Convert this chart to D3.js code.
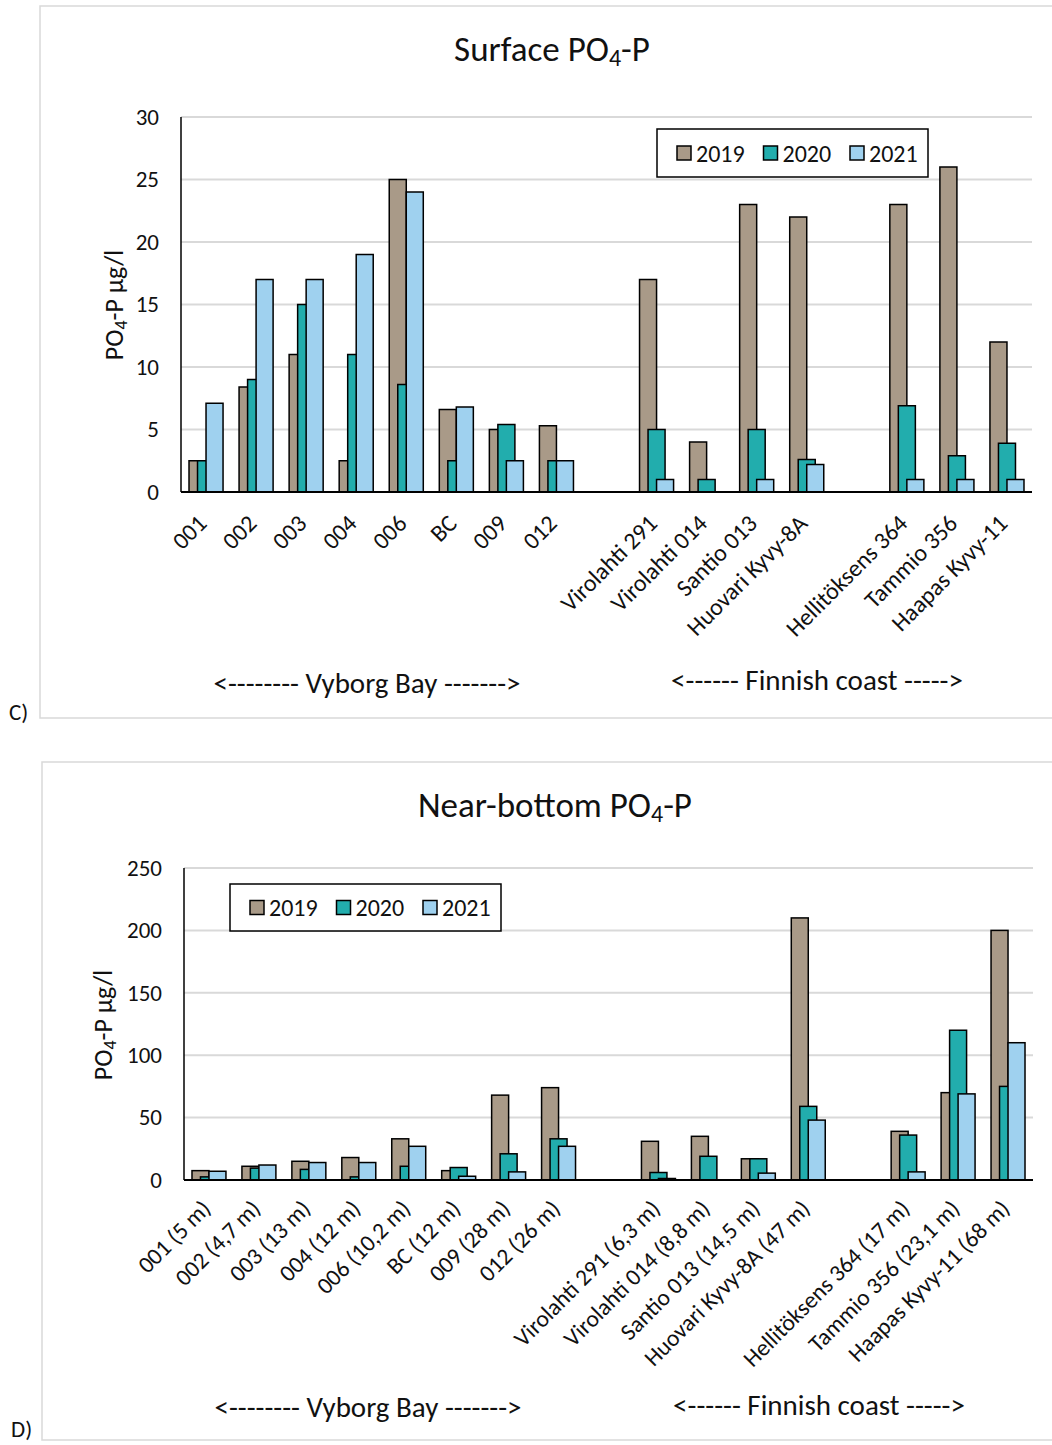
<!DOCTYPE html>
<html>
<head>
<meta charset="utf-8">
<script src="https://cdn.jsdelivr.net/npm/d3@7"></script>
<style>
  body { margin: 0; background: #fff; }
  svg { display: block; }
  text { font-family: Calibri, Carlito, Lato, sans-serif; fill: #111; }
</style>
</head>
<body>
<div id="chart"></div>
<script>
(function () {
  'use strict';

  // categories ('' = empty spacer slot between groups)
  const surfaceCats = ['001', '002', '003', '004', '006', 'BC', '009', '012', '',
    'Virolahti 291', 'Virolahti 014', 'Santio 013', 'Huovari Kyvy-8A', '',
    'Hellitöksens 364', 'Tammio 356', 'Haapas Kyvy-11'];
  const bottomCats = ['001 (5 m)', '002 (4,7 m)', '003 (13 m)', '004 (12 m)', '006 (10,2 m)',
    'BC (12 m)', '009 (28 m)', '012 (26 m)', '',
    'Virolahti 291 (6,3 m)', 'Virolahti 014 (8,8 m)', 'Santio 013 (14,5 m)', 'Huovari Kyvy-8A (47 m)', '',
    'Hellitöksens 364 (17 m)', 'Tammio 356 (23,1 m)', 'Haapas Kyvy-11 (68 m)'];

  const years = ['2019', '2020', '2021'];

  const surface2019 = [2.5, 8.4, 11, 2.5, 25, 6.6, 5.0, 5.3, null, 17, 4.0, 23, 22, null, 23, 26, 12];
  const surface2020 = [2.5, 9.0, 15, 11, 8.6, 2.5, 5.4, 2.5, null, 5.0, 1.0, 5.0, 2.6, null, 6.9, 2.9, 3.9];
  const surface2021 = [7.1, 17, 17, 19, 24, 6.8, 2.5, 2.5, null, 1.0, null, 1.0, 2.2, null, 1.0, 1.0, 1.0];

  const bottom2019 = [7.5, 11, 15, 18, 33, 7.5, 68, 74, null, 31, 35, 17, 210, null, 39, 70, 200];
  const bottom2020 = [2.5, 9.5, 8.5, 2.5, 11, 10, 21, 33, null, 6, 19, 17, 59, null, 36, 120, 75];
  const bottom2021 = [7.0, 12, 14, 14, 27, 3, 6.5, 27, null, 1.2, null, 5.5, 48, null, 6.5, 69, 110];

  const surfaceTicks = [0, 5, 10, 15, 20, 25, 30];
  const bottomTicks = [0, 50, 100, 150, 200, 250];

  const colors = ['#a99a88', '#22adad', '#9fd1ef'];

  const W = 1052, H = 1445;
  const svg = d3.select('#chart').append('svg').attr('width', W).attr('height', H);

  function drawPanel(cfg) {
    const g = svg.append('g');

    // frame
    g.append('rect')
      .attr('x', cfg.frame.x).attr('y', cfg.frame.y)
      .attr('width', cfg.frame.w).attr('height', cfg.frame.h)
      .attr('fill', 'none').attr('stroke', '#d9d9d9').attr('stroke-width', 1.5);
    g.append('text')
      .attr('x', cfg.tag.x).attr('y', cfg.tag.y)
      .attr('font-size', 23).text(cfg.tag.text);

    // title with subscript
    const t = g.append('text')
      .attr('x', cfg.title.x).attr('y', cfg.title.y)
      .attr('text-anchor', 'middle').attr('font-size', 35);
    t.append('tspan').text(cfg.title.pre + 'PO');
    t.append('tspan').attr('baseline-shift', '-22%').attr('font-size', 24).text('4');
    t.append('tspan').attr('baseline-shift', '0').text('-P');

    const x = d3.scaleBand()
      .domain(d3.range(cfg.cats.length))
      .range([cfg.plot.left, cfg.plot.right]);
    const y = d3.scaleLinear()
      .domain([0, cfg.ticks[cfg.ticks.length - 1]])
      .range([cfg.plot.bottom, cfg.plot.top]);

    const bw = x.bandwidth();
    const barW = bw * 0.34, step = bw * 0.17, pad = bw * 0.16;

    // gridlines
    g.append('g')
      .selectAll('line')
      .data(cfg.ticks.filter((d) => d > 0))
      .enter().append('line')
      .attr('x1', cfg.plot.left).attr('x2', cfg.plot.right)
      .attr('y1', (d) => y(d)).attr('y2', (d) => y(d))
      .attr('stroke', '#d9d9d9').attr('stroke-width', 2);

    // y tick labels
    const yAxis = g.append('g')
      .attr('transform', `translate(${cfg.plot.left},0)`)
      .call(d3.axisLeft(y).tickValues(cfg.ticks).tickSize(0).tickPadding(22));
    yAxis.select('.domain').remove();
    yAxis.selectAll('text')
      .attr('font-size', 23).attr('font-family', 'Calibri, Carlito, Lato, sans-serif').attr('fill', '#111');

    // bars, series in order so later years overlap earlier
    cfg.series.forEach((vals, si) => {
      g.append('g')
        .selectAll('rect')
        .data(vals.map((v, i) => ({ v, i })).filter((d) => d.v != null))
        .enter().append('rect')
        .attr('x', (d) => x(d.i) + pad + si * step)
        .attr('width', barW)
        .attr('y', (d) => y(d.v))
        .attr('height', (d) => y(0) - y(d.v))
        .attr('fill', colors[si])
        .attr('stroke', '#000').attr('stroke-width', 1.5);
    });

    // axes lines
    g.append('line')
      .attr('x1', cfg.plot.left).attr('x2', cfg.plot.left)
      .attr('y1', cfg.plot.top).attr('y2', cfg.plot.bottom)
      .attr('stroke', '#000').attr('stroke-width', 1.5);
    g.append('line')
      .attr('x1', cfg.plot.left).attr('x2', cfg.plot.right)
      .attr('y1', cfg.plot.bottom).attr('y2', cfg.plot.bottom)
      .attr('stroke', '#000').attr('stroke-width', 1.8);

    // category labels
    g.append('g')
      .selectAll('text')
      .data(cfg.cats.map((c, i) => ({ c, i })).filter((d) => d.c !== ''))
      .enter().append('text')
      .attr('transform', (d) => `translate(${x(d.i) + bw / 2 + cfg.labelDx},${cfg.plot.bottom + cfg.labelDy}) rotate(-45)`)
      .attr('text-anchor', 'end')
      .attr('font-size', cfg.labelSize)
      .text((d) => d.c);

    // y title
    const yt = g.append('text')
      .attr('transform', `translate(${cfg.yTitle.x},${cfg.yTitle.y}) rotate(-90)`)
      .attr('text-anchor', 'middle').attr('font-size', 26);
    yt.append('tspan').text('PO');
    yt.append('tspan').attr('baseline-shift', '-22%').attr('font-size', 18).text('4');
    yt.append('tspan').attr('baseline-shift', '0').text('-P µg/l');

    // group labels
    cfg.groups.forEach((gr) => {
      g.append('text')
        .attr('x', gr.x).attr('y', gr.y)
        .attr('text-anchor', 'middle').attr('font-size', 29)
        .text(gr.text);
    });

    // legend
    const lg = g.append('g').attr('transform', `translate(${cfg.legend.x},${cfg.legend.y})`);
    lg.append('rect')
      .attr('width', cfg.legend.w).attr('height', cfg.legend.h)
      .attr('fill', '#fff').attr('stroke', '#000').attr('stroke-width', 1.5);
    years.forEach((yr, i) => {
      const item = lg.append('g').attr('transform', `translate(${20 + i * 86.5},${cfg.legend.h / 2})`);
      item.append('rect')
        .attr('x', 0).attr('y', -7).attr('width', 14).attr('height', 14)
        .attr('fill', colors[i]).attr('stroke', '#000').attr('stroke-width', 1.5);
      item.append('text')
        .attr('x', 19).attr('y', 8.5)
        .attr('font-size', 24).text(yr);
    });
  }

  drawPanel({
    frame: { x: 40, y: 6, w: 1020, h: 712 },
    tag: { x: 9, y: 720, text: 'C)' },
    title: { x: 552, y: 61, pre: 'Surface ' },
    plot: { left: 181, right: 1032, top: 117, bottom: 492 },
    ticks: surfaceTicks,
    cats: surfaceCats,
    series: [surface2019, surface2020, surface2021],
    labelDx: 2, labelDy: 33, labelSize: 24,
    yTitle: { x: 123, y: 305 },
    groups: [
      { x: 367, y: 693, text: '<-------- Vyborg Bay ------->' },
      { x: 817, y: 690, text: '<------ Finnish coast ----->' }
    ],
    legend: { x: 657, y: 129, w: 271, h: 48 }
  });

  drawPanel({
    frame: { x: 42, y: 762, w: 1020, h: 678 },
    tag: { x: 11, y: 1437, text: 'D)' },
    title: { x: 555, y: 817, pre: 'Near-bottom ' },
    plot: { left: 184, right: 1033, top: 868, bottom: 1180 },
    ticks: bottomTicks,
    cats: bottomCats,
    series: [bottom2019, bottom2020, bottom2021],
    labelDx: 3, labelDy: 30, labelSize: 23.5,
    yTitle: { x: 112, y: 1025 },
    groups: [
      { x: 368, y: 1417, text: '<-------- Vyborg Bay ------->' },
      { x: 819, y: 1415, text: '<------ Finnish coast ----->' }
    ],
    legend: { x: 230, y: 884, w: 271, h: 47 }
  });
})();
</script>
</body>
</html>
